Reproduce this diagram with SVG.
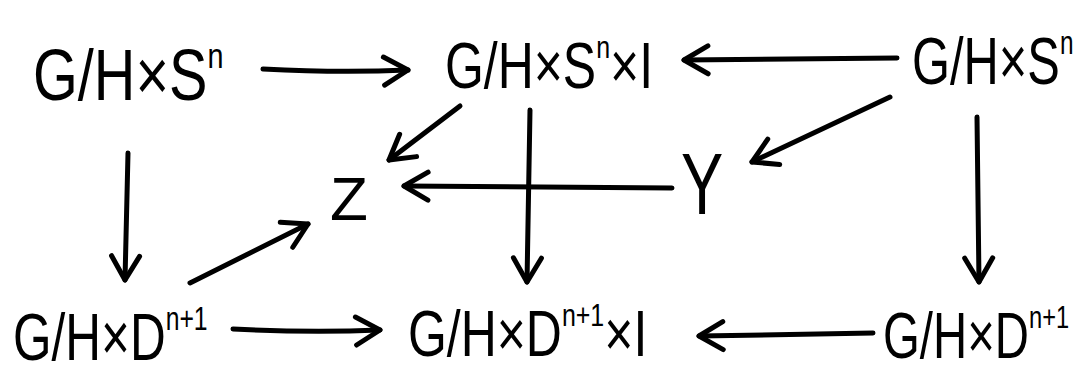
<svg xmlns="http://www.w3.org/2000/svg" width="1086" height="375" viewBox="0 0 1086 375">
<style>
text{font-family:"Liberation Sans",Arial,sans-serif;fill:#000}
.sup{font-size:0.5em}
.edge{fill:none;stroke:#000;stroke-width:5;stroke-linecap:round;stroke-linejoin:round}
</style>
<defs>
<marker id="ah" markerUnits="userSpaceOnUse" markerWidth="40" markerHeight="40" viewBox="-30 -20 40 40" refX="0" refY="0" orient="auto">
<path d="M -24 -14 L 0 0 L -24 14" fill="none" stroke="#000" stroke-width="5" stroke-linecap="round" stroke-linejoin="round"/>
</marker>
</defs>
<rect width="1086" height="375" fill="#fff"/>
<g id="connectors">
<path class="edge" d="M 263 69 Q 340 73 408 70" marker-end="url(#ah)"/>
<path class="edge" d="M 897 58 L 684 60" marker-end="url(#ah)"/>
<path class="edge" d="M 128 153 L 125 280" marker-end="url(#ah)"/>
<path class="edge" d="M 530 110 L 527 282" marker-end="url(#ah)"/>
<path class="edge" d="M 977 117 L 979 282" marker-end="url(#ah)"/>
<path class="edge" d="M 233 329 Q 310 333 380 330" marker-end="url(#ah)"/>
<path class="edge" d="M 873 333 L 699 336" marker-end="url(#ah)"/>
<path class="edge" d="M 460 106 L 389 160" marker-end="url(#ah)"/>
<path class="edge" d="M 890 97 L 752 162" marker-end="url(#ah)"/>
<path class="edge" d="M 672 188 L 404 186" marker-end="url(#ah)"/>
<path class="edge" d="M 190 283 L 308 224" marker-end="url(#ah)"/>
</g>
<g id="n-tl"><text transform="translate(33,100) scale(0.8,1)" font-size="72">G/H×S<tspan class="sup" dy="-32">n</tspan></text></g>
<g id="n-tm"><text transform="translate(445,88) scale(0.78,1)" font-size="64">G/H×S<tspan class="sup" dy="-30">n</tspan><tspan dy="30">×I</tspan></text></g>
<g id="n-tr"><text transform="translate(912,84) scale(0.74,1)" font-size="66">G/H×S<tspan class="sup" dy="-30">n</tspan></text></g>
<g id="n-z"><text x="330" y="220" font-size="62">Z</text></g>
<g id="n-y"><text transform="translate(681,214) scale(0.72,1)" font-size="88">Y</text></g>
<g id="n-bl"><text transform="translate(13,360) scale(0.75,1)" font-size="66">G/H×D<tspan class="sup" dy="-30">n+1</tspan></text></g>
<g id="n-bm"><text transform="translate(408,356) scale(0.78,1)" font-size="64">G/H×D<tspan class="sup" dy="-30">n+1</tspan><tspan dy="30">×I</tspan></text></g>
<g id="n-br"><text transform="translate(883,358) scale(0.74,1)" font-size="64">G/H×D<tspan class="sup" dy="-30">n+1</tspan></text></g>
</svg>
